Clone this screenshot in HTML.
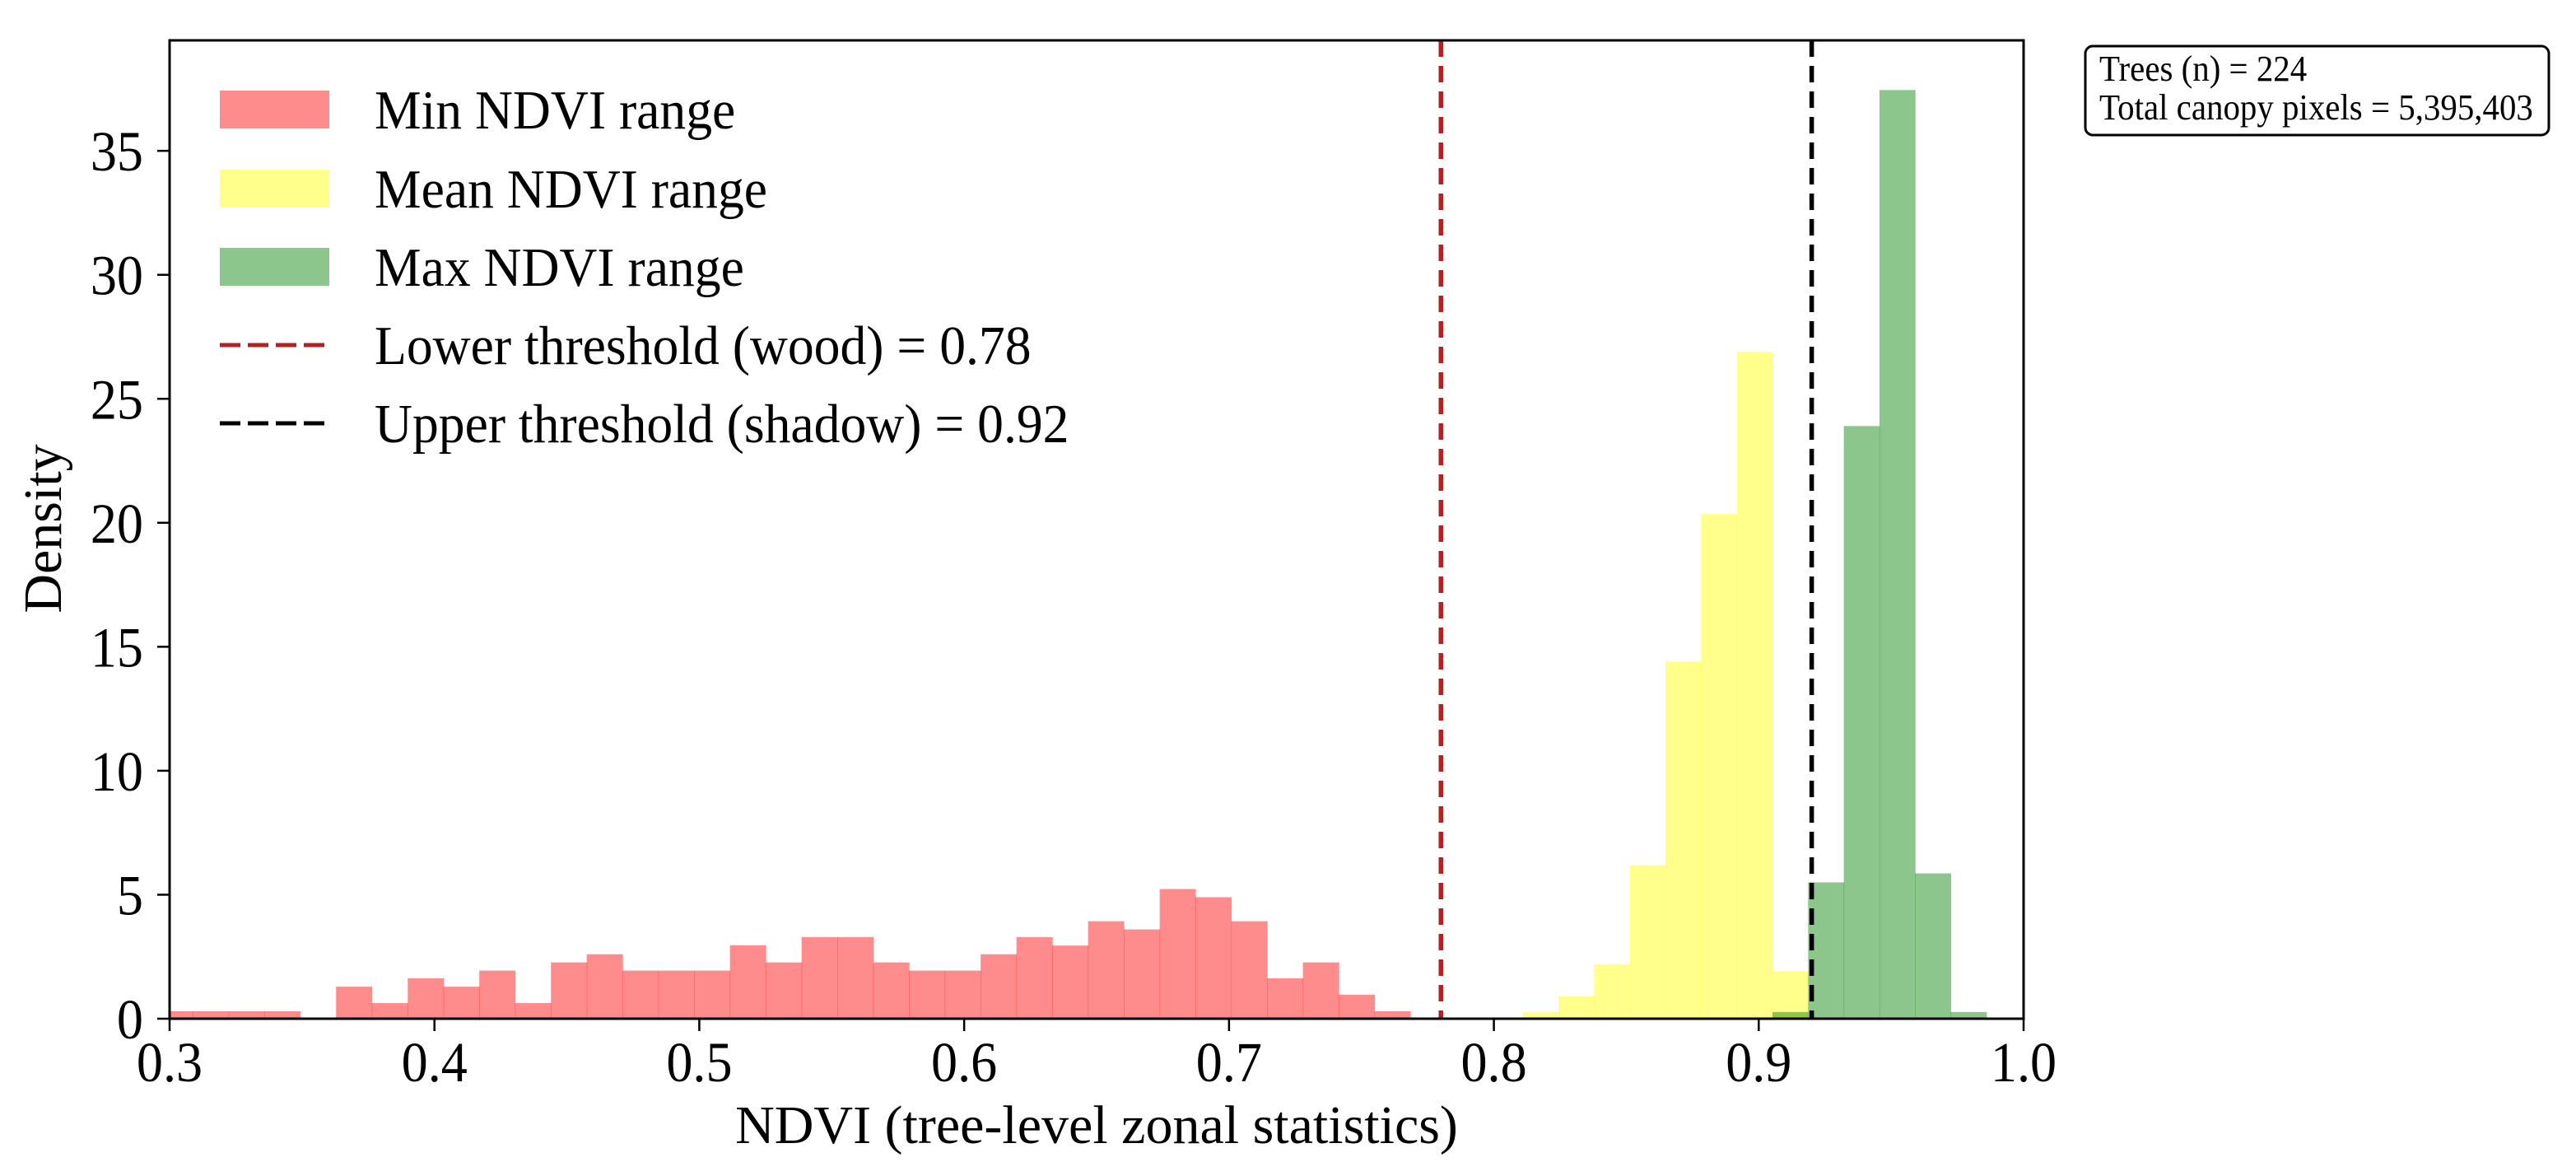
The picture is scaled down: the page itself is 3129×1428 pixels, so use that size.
<!DOCTYPE html>
<html><head><meta charset="utf-8"><style>
html,body{margin:0;padding:0;background:#fff;}
svg text{font-family:"Liberation Serif",serif;fill:#000;}
</style></head><body>
<svg id="chart" width="3129" height="1423" xmlns="http://www.w3.org/2000/svg">
<g id="plot"></g>
</svg>
<script>
// data
const minEdge0 = 0.29526, minBinW = 0.01352;
const minHeights = [0.30,0.30,0.30,0.30,0,1.29,0.63,1.63,1.29,1.94,0.63,2.27,2.60,1.94,1.94,1.94,2.96,2.27,3.29,3.29,2.27,1.94,1.94,2.60,3.29,2.95,3.93,3.60,5.23,4.90,3.93,1.63,2.27,0.97,0.30];
const meanEdge0 = 0.81095, meanBinW = 0.01346;
const meanHeights = [0.27,0.90,2.20,6.19,14.4,20.35,26.9,1.92];
const maxEdge0 = 0.9052, maxBinW = 0.01346;
const maxHeights = [0.27,5.5,23.9,37.45,5.86,0.27];
const xTicks = [0.3,0.4,0.5,0.6,0.7,0.8,0.9,1.0];
const xTickLabels = ["0.3","0.4","0.5","0.6","0.7","0.8","0.9","1.0"];
const yTicks = [0,5,10,15,20,25,30,35];
const lowerThreshold = 0.78, upperThreshold = 0.92;

const L=206,R=2458,T=49,B=1237,X0=0.3,X1=1.0,YPU=30.11;
const xs=v=>L+(v-X0)/(X1-X0)*(R-L);
const ys=v=>B-v*YPU;
const NS="http://www.w3.org/2000/svg";
const svg=document.getElementById('chart');
function mk(tag,attrs,parent){const e=document.createElementNS(NS,tag);for(const k in attrs)e.setAttribute(k,attrs[k]);(parent||svg).appendChild(e);return e;}
const clip=mk('clipPath',{id:'pc'});mk('rect',{x:L,y:T,width:R-L,height:B-T},clip);
const g=mk('g',{'clip-path':'url(#pc)'});


function bars(edge0,w,hs,color,name){
  hs.forEach((h,i)=>{ if(h<=0)return;
    const x1=xs(edge0+i*w),x2=xs(edge0+(i+1)*w);
    const r=mk('rect',{x:x1,y:ys(h),width:x2-x1+0.5,height:B-ys(h),fill:color,'fill-opacity':0.45},g);
    
    
  });
}
bars(minEdge0,minBinW,minHeights,'#ff0000','min-ndvi');
bars(meanEdge0,meanBinW,meanHeights,'#ffff00','mean-ndvi');
bars(maxEdge0,maxBinW,maxHeights,'#008000','max-ndvi');
const l1=mk('line',{x1:xs(lowerThreshold),x2:xs(lowerThreshold),y1:T,y2:B,stroke:'#b22222','stroke-width':5.5,'stroke-dasharray':'20,11'},g);


const l2=mk('line',{x1:xs(upperThreshold),x2:xs(upperThreshold),y1:T,y2:B,stroke:'#000','stroke-width':5.5,'stroke-dasharray':'20,11'},g);


const frame=mk('rect',{x:L,y:T,width:R-L,height:B-T,fill:'none',stroke:'#000','stroke-width':3});


xTicks.forEach((v,i)=>{
  const t=mk('line',{x1:xs(v),x2:xs(v),y1:B,y2:B+15,stroke:'#000','stroke-width':2.5});
  
  
  const tx=mk('text',{x:0,y:0,'font-size':69,'text-anchor':'middle',transform:'translate('+xs(v)+',1313) scale(0.93,1)'});
  tx.textContent=xTickLabels[i];
  
  
});
yTicks.forEach(v=>{
  const t=mk('line',{x1:L-15,x2:L,y1:ys(v),y2:ys(v),stroke:'#000','stroke-width':2.5});
  
  
  const tx=mk('text',{x:0,y:0,'font-size':69,'text-anchor':'end',transform:'translate(174,'+(ys(v)+24)+') scale(0.93,1)'});
  tx.textContent=String(v);
  
  
});
</script>
<script>
(function(){
const NS="http://www.w3.org/2000/svg",svg=document.getElementById('chart');
function mk(tag,attrs){const e=document.createElementNS(NS,tag);for(const k in attrs)e.setAttribute(k,attrs[k]);svg.appendChild(e);return e;}
const xl=mk('text',{x:1332,y:1388,'font-size':66,'text-anchor':'middle'});xl.textContent='NDVI (tree-level zonal statistics)';


const yl=mk('text',{x:0,y:0,'font-size':66,'text-anchor':'middle',transform:'translate(74,642) rotate(-90)'});yl.textContent='Density';


const items=[['patch','#ff0000','Min NDVI range',133],['patch','#ffff00','Mean NDVI range',229],['patch','#008000','Max NDVI range',324],['line','#b22222','Lower threshold (wood) = 0.78',419],['line','#000000','Upper threshold (shadow) = 0.92',514]];
items.forEach(it=>{
  let m;
  if(it[0]==='patch') m=mk('rect',{x:267,y:it[3]-23,width:133,height:46,fill:it[1],'fill-opacity':0.45});
  else m=mk('line',{x1:267,x2:400,y1:it[3],y2:it[3],stroke:it[1],'stroke-width':5,'stroke-dasharray':'25,9'});
  
  
  const t=mk('text',{x:0,y:0,'font-size':67,transform:'translate(455,'+(it[3]+23)+') scale(0.95,1)'});t.textContent=it[2];
  
  
});
const box=mk('rect',{x:2533,y:56,width:563,height:108,rx:9,fill:'#fff',stroke:'#000','stroke-width':3});


const s1=mk('text',{x:0,y:0,'font-size':44,transform:'translate(2550,98) scale(0.93,1)'});s1.textContent='Trees (n) = 224';


const s2=mk('text',{x:0,y:0,'font-size':44,transform:'translate(2550,145) scale(0.93,1)'});s2.textContent='Total canopy pixels = 5,395,403';


})();
</script>
</body></html>
